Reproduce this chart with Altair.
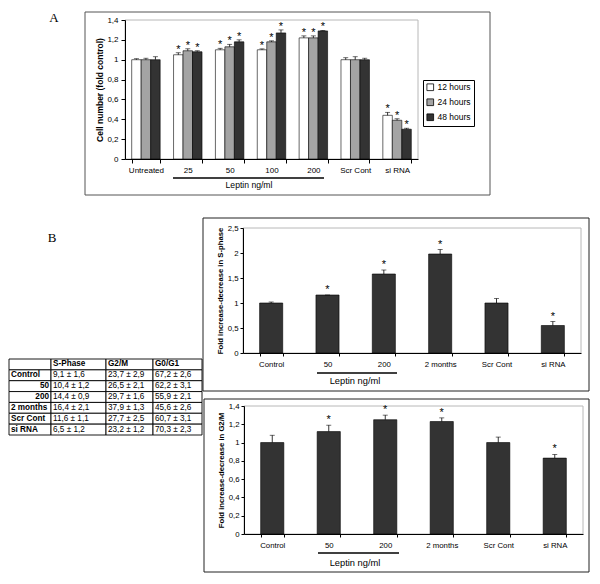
import altair as alt
import pandas as pd

W, H = 584, 568
FONT = "Liberation Sans"
SERIF = "Liberation Serif"

# ---------------- Panel A data ----------------
cats_A = ["Untreated", "25", "50", "100", "200", "Scr Cont", "si RNA"]
series_A = ["12 hours", "24 hours", "48 hours"]
colors_A = ["#ffffff", "#a4a4a4", "#333333"]
val_12h = [1.00, 1.05, 1.10, 1.10, 1.22, 1.00, 0.44]
err_12h = [0.01, 0.02, 0.015, 0.01, 0.02, 0.02, 0.03]
val_24h = [1.00, 1.09, 1.13, 1.18, 1.22, 1.00, 0.39]
err_24h = [0.015, 0.02, 0.025, 0.01, 0.02, 0.03, 0.015]
val_48h = [1.00, 1.08, 1.18, 1.27, 1.29, 1.00, 0.30]
err_48h = [0.03, 0.01, 0.02, 0.03, 0.005, 0.015, 0.01]
sig_A = [False, True, True, True, True, False, True]
ticks_A = [0, 0.2, 0.4, 0.6, 0.8, 1.0, 1.2, 1.4]

# ---------------- Panel B data ----------------
cats_B = ["Control", "50", "200", "2 months", "Scr Cont", "si RNA"]
sphase_val = [1.00, 1.16, 1.58, 1.98, 1.00, 0.55]
sphase_err = [0.02, 0.0, 0.08, 0.09, 0.09, 0.08]
g2m_val = [1.00, 1.12, 1.25, 1.23, 1.00, 0.83]
g2m_err = [0.08, 0.07, 0.05, 0.04, 0.06, 0.04]
sig_B = [False, True, True, True, False, True]
ticks_S = [0, 0.5, 1.0, 1.5, 2.0, 2.5]
ticks_G = [0, 0.2, 0.4, 0.6, 0.8, 1.0, 1.2, 1.4]

# ---------------- Table data ----------------
table_header = ["", "S-Phase", "G2/M", "G0/G1"]
table_rows = ["Control", "50", "200", "2 months", "Scr Cont", "si RNA"]
table_sphase = ["9,1 ± 1,6", "10,4 ± 1,2", "14,4 ± 0,9", "16,4 ± 2,1", "11,6 ± 1,1", "6,5 ± 1,2"]
table_g2m = ["23,7 ± 2,9", "26,5 ± 2,1", "29,7 ± 1,6", "37,9 ± 1,3", "27,7 ± 2,5", "23,2 ± 1,2"]
table_g0g1 = ["67,2 ± 2,6", "62,2 ± 3,1", "55,9 ± 2,1", "45,6 ± 2,6", "60,7 ± 3,1", "70,3 ± 2,3"]
table_right_aligned = ["50", "200"]

LABEL_EXPR = "replace(format(datum.value, '.2~f'), '.', ',')"


def ax(**kw):
    base = dict(labelFont=FONT, labelColor="black", domainColor="black",
                tickColor="black", grid=False, zindex=1, domainWidth=1,
                tickWidth=1, titleFont=FONT, titleColor="black")
    base.update(kw)
    return alt.Axis(**base)


one = alt.Data(values=[{"k": 1}])


def box(x, x2, y, y2, color, width=1.0):
    return alt.Chart(one).mark_rect(fillOpacity=0, stroke=color, strokeWidth=width).encode(
        x=alt.value(x), x2=alt.value(x2), y=alt.value(y), y2=alt.value(y2))


def hline(x, x2, y, width=1.5):
    return alt.Chart(one).mark_rule(color="black", strokeWidth=width).encode(
        x=alt.value(x), x2=alt.value(x2), y=alt.value(y))


def label(x, y, txt, size, font=FONT, weight="normal"):
    return alt.Chart(one).mark_text(text=txt, font=font, fontSize=size, fontWeight=weight,
                                    color="black", baseline="middle", align="center").encode(
        x=alt.value(x), y=alt.value(y))


# ---------------- Panel A ----------------
rowsA = []
for s, vals, errs in zip(series_A, [val_12h, val_24h, val_48h], [err_12h, err_24h, err_48h]):
    for c, v, e, sg in zip(cats_A, vals, errs, sig_A):
        rowsA.append(dict(cat=c, series=s, val=v, top=v + e, sig=sg))
dfA = pd.DataFrame(rowsA)

xA = alt.Scale(domain=cats_A, range=[117, 410], paddingInner=0.32, paddingOuter=0.16)
yA = alt.Scale(domain=[0, 1.4], range=[151, 12], nice=False, zero=True)
xoA = alt.Scale(domain=series_A, paddingInner=0, paddingOuter=0)
cA = alt.Scale(domain=series_A, range=colors_A)

baseA = alt.Chart(dfA)
barsA = baseA.mark_bar(stroke="black", strokeWidth=0.6).encode(
    x=alt.X("cat:N", scale=xA, title=None,
            axis=ax(orient="bottom", offset=151 - H, tickBand="extent", tickSize=4,
                    labelPadding=3, labelFontSize=8, labelAngle=0, labelOverlap=False)),
    xOffset=alt.XOffset("series:N", scale=xoA),
    y=alt.Y("val:Q", scale=yA, title="Cell number (fold control)",
            axis=ax(orient="left", offset=-117, values=ticks_A, labelExpr=LABEL_EXPR,
                    tickSize=4, labelPadding=3, labelFontSize=8, titleFontSize=8.5,
                    titleFontWeight="bold", titlePadding=2)),
    color=alt.Color("series:N", scale=cA,
                    legend=alt.Legend(orient="none", legendX=415, legendY=72, title=None,
                                      padding=3, strokeColor="black", fillColor="white",
                                      labelFont=FONT, labelFontSize=8.5, labelColor="black",
                                      symbolType="square", symbolSize=45,
                                      symbolStrokeColor="black", symbolStrokeWidth=0.8,
                                      rowPadding=4, labelOffset=3)),
)
errA = baseA.mark_rule(color="black", strokeWidth=0.8).encode(
    x=alt.X("cat:N", scale=xA, title=None), xOffset=alt.XOffset("series:N", scale=xoA),
    y=alt.Y("val:Q", scale=yA, title="Cell number (fold control)"), y2="top:Q")
capA = baseA.mark_tick(color="black", size=5, thickness=0.8).encode(
    x=alt.X("cat:N", scale=xA, title=None), xOffset=alt.XOffset("series:N", scale=xoA),
    y=alt.Y("top:Q", scale=yA, title="Cell number (fold control)"))
starA = baseA.transform_filter("datum.sig").mark_text(
    text="*", font=FONT, fontSize=11, baseline="alphabetic", dy=0, color="black").encode(
    x=alt.X("cat:N", scale=xA, title=None), xOffset=alt.XOffset("series:N", scale=xoA),
    y=alt.Y("top:Q", scale=yA, title="Cell number (fold control)"))
panelA = alt.layer(barsA, errA, capA, starA)


# ---------------- Panel B bar charts ----------------
def bar_panel(vals, errs, x0, x1, ytop, ybot, ymax, ticks, ytitle):
    df = pd.DataFrame({"cat": cats_B, "val": vals,
                       "top": [v + e for v, e in zip(vals, errs)], "sig": sig_B})
    xs = alt.Scale(domain=cats_B, range=[x0, x1], paddingInner=0.59, paddingOuter=0.295)
    ys = alt.Scale(domain=[0, ymax], range=[ybot, ytop], nice=False, zero=True)
    base = alt.Chart(df)
    bars = base.mark_bar(color="#333333", stroke="black", strokeWidth=0.6).encode(
        x=alt.X("cat:N", scale=xs, title=None,
                axis=ax(orient="bottom", offset=ybot - H, tickBand="extent", tickSize=3,
                        labelPadding=4, labelFontSize=7.8, labelAngle=0, labelOverlap=False)),
        y=alt.Y("val:Q", scale=ys, title=ytitle,
                axis=ax(orient="left", offset=-x0, values=ticks, labelExpr=LABEL_EXPR,
                        tickSize=3, labelPadding=2, labelFontSize=7.8, titleFontSize=7.7,
                        titleFontWeight="bold", titlePadding=3)),
    )
    err = base.mark_rule(color="black", strokeWidth=0.8).encode(
        x=alt.X("cat:N", scale=xs, title=None),
        y=alt.Y("val:Q", scale=ys, title=ytitle), y2="top:Q")
    cap = base.mark_tick(color="black", size=5, thickness=0.8).encode(
        x=alt.X("cat:N", scale=xs, title=None),
        y=alt.Y("top:Q", scale=ys, title=ytitle))
    star = base.transform_filter("datum.sig").mark_text(
        text="*", font=FONT, fontSize=11, baseline="alphabetic", dy=-2, color="black").encode(
        x=alt.X("cat:N", scale=xs, title=None),
        y=alt.Y("top:Q", scale=ys, title=ytitle))
    return alt.layer(bars, err, cap, star)


panelB1 = bar_panel(sphase_val, sphase_err, 235, 573, 220, 345, 2.5, ticks_S,
                    "Fold increase-decrease in S-phase")
panelB2 = bar_panel(g2m_val, g2m_err, 236, 575, 398, 526, 1.4, ticks_G,
                    "Fold increase-decrease in G2/M")

# ---------------- Table ----------------
cells = []
for j, h in enumerate(table_header):
    cells.append(dict(row=0, col=j, text=h, bold=True, right=False))
for i, r in enumerate(table_rows):
    cells.append(dict(row=i + 1, col=0, text=r, bold=True, right=r in table_right_aligned))
    cells.append(dict(row=i + 1, col=1, text=table_sphase[i], bold=False, right=False))
    cells.append(dict(row=i + 1, col=2, text=table_g2m[i], bold=False, right=False))
    cells.append(dict(row=i + 1, col=3, text=table_g0g1[i], bold=False, right=False))
dfT = pd.DataFrame(cells)

xT = alt.Scale(type="linear", domain=[0, 1, 2, 3, 4], range=[1, 43, 98, 145, 194], nice=False, zero=False)
yT = alt.Scale(type="linear", domain=[0, 7], range=[351, 427], nice=False, zero=False)
baseT = alt.Chart(dfT).transform_calculate(
    col2="datum.col + 1", row2="datum.row + 1", ymid="datum.row + 0.5")
cellsT = baseT.mark_rect(fill="white", stroke="black", strokeWidth=0.9).encode(
    x=alt.X("col:Q", scale=xT, axis=None), x2="col2:Q",
    y=alt.Y("row:Q", scale=yT, axis=None), y2="row2:Q")
txt_bold_left = baseT.transform_filter("datum.bold && !datum.right").mark_text(
    font=FONT, fontSize=8.2, fontWeight="bold", align="left", baseline="middle", dx=2,
    color="black").encode(
    x=alt.X("col:Q", scale=xT, axis=None), y=alt.Y("ymid:Q", scale=yT, axis=None), text="text:N")
txt_bold_right = baseT.transform_filter("datum.bold && datum.right").mark_text(
    font=FONT, fontSize=8.2, fontWeight="bold", align="right", baseline="middle", dx=-2,
    color="black").encode(
    x=alt.X("col2:Q", scale=xT, axis=None), y=alt.Y("ymid:Q", scale=yT, axis=None), text="text:N")
txt_normal = baseT.transform_filter("!datum.bold").mark_text(
    font=FONT, fontSize=8.2, align="left", baseline="middle", dx=2, color="black").encode(
    x=alt.X("col:Q", scale=xT, axis=None), y=alt.Y("ymid:Q", scale=yT, axis=None), text="text:N")
table = alt.layer(cellsT, txt_bold_left, txt_bold_right, txt_normal)

# ---------------- Decorations ----------------
decor = [
    box(77, 482, 4, 187, "#555555"),
    box(195, 581, 210, 383, "#222222"),
    box(196, 581, 391, 564, "#222222"),
    box(117, 410, 12, 151, "#b8b8b8"),
    box(235, 573, 220, 345, "#b8b8b8"),
    box(236, 575, 398, 526, "#b8b8b8"),
]
annot = [
    hline(165, 316, 170),
    hline(309, 389, 365),
    hline(310, 391, 545),
    label(241, 177, "Leptin ng/ml", 8.6),
    label(347, 373, "Leptin ng/ml", 9.3),
    label(347, 555, "Leptin ng/ml", 9.3),
    label(46, 10, "A", 13, font=SERIF),
    label(44, 230, "B", 13, font=SERIF),
]

chart = alt.layer(*decor, panelA, panelB1, panelB2, table, *annot).resolve_scale(
    x="independent", y="independent"
).properties(
    width=W, height=H, autosize=alt.AutoSizeParams(type="none"), padding=0
).configure(font=FONT).configure_view(stroke=None)

chart.save("out.html", embed_options={"renderer": "svg", "actions": False})
